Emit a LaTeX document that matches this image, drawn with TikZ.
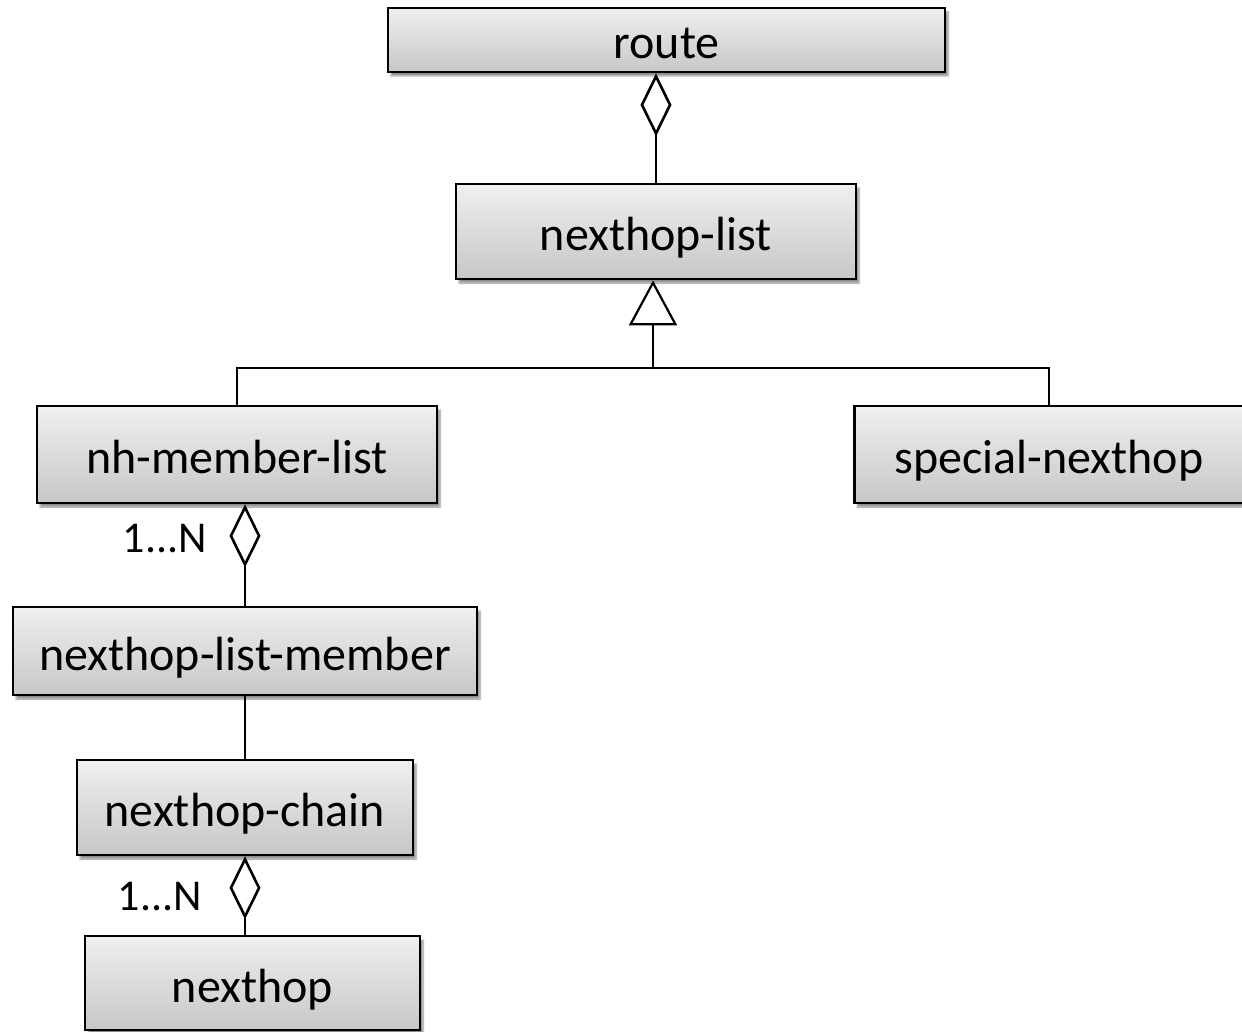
\documentclass[tikz,border=0pt]{standalone}
\usepackage{fontspec}
\setmainfont{Carlito}
\usetikzlibrary{arrows.meta,shadows.blur}
\begin{document}
\begin{tikzpicture}[x=1pt,y=-1pt,
  cls/.style={draw=black, line width=2.8pt, top color=white!94!black, bottom color=white!78!black,
    blur shadow={shadow blur steps=6, shadow xshift=3pt, shadow yshift=-4pt, shadow opacity=45},
    inner sep=0pt, text height=40pt, text depth=2pt, font=\fontsize{48}{57}\selectfont},
  conn/.style={line width=2.8pt},
  agg/.style={conn, {Diamond[fill=white, length=63pt, width=31pt, line width=2.6pt]}-},
  gen/.style={conn, -{Triangle[fill=white, length=45pt, width=48pt, line width=2.2pt]}},
  mult/.style={font=\fontsize{44}{52}\selectfont, inner sep=0pt}]
\useasboundingbox (0,0) rectangle (1242,1032);
\node[cls, minimum width=557pt, minimum height=64pt] (route) at (666.5,40) {route};
\node[cls, minimum width=400pt, minimum height=95pt] (nhl) at (656,231.5) {nexthop-list};
\node[cls, minimum width=400pt, minimum height=97pt] (nml) at (237,454.5) {nh-member-list};
\node[cls, minimum width=389pt, minimum height=97pt] (snh) at (1049,454.5) {special-nexthop};
\node[cls, minimum width=464pt, minimum height=88pt] (nlm) at (245,651) {nexthop-list-member};
\node[cls, minimum width=336pt, minimum height=95pt] (chain) at (245,807.5) {nexthop-chain};
\node[cls, minimum width=335pt, minimum height=94pt] (nh) at (252.5,983) {nexthop};
\coordinate (junc) at (653,368);
\draw[agg] (route.south -| nhl.north) -- (nhl.north);
\draw[gen] (junc) -- (junc |- nhl.south);
\draw[conn] (nml.north) |- (junc) -| (snh.north);
\draw[agg] (nml.south -| nlm.north) -- (nlm.north);
\draw[conn] (nlm.south) -- (chain.north);
\draw[agg] (chain.south) -- (chain.south |- nh.north);
\node[mult] (m1) at (165,539) {1...N};
\node[mult] (m2) at (160,897) {1...N};
\end{tikzpicture}
\end{document}
